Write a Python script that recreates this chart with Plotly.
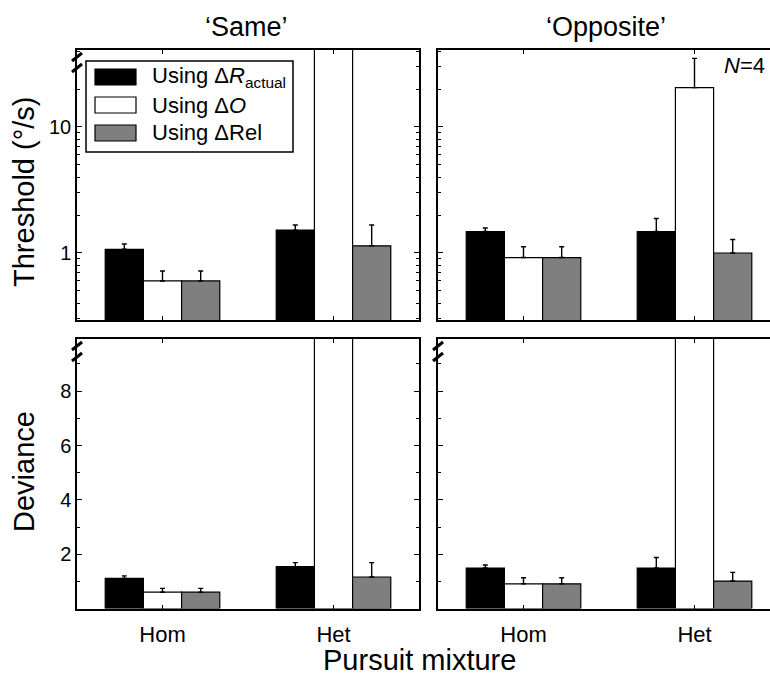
import plotly.graph_objects as go
import math

W, H = 770, 675

categories = ["Hom", "Het"]
series_names = ["Using Δ<i>R</i><sub>actual</sub>", "Using Δ<i>O</i>", "Using ΔRel"]
series_colors = ["#000000", "#ffffff", "#7f7f7f"]

# Threshold (deg/s), 'Same'
thr_same = [[1.07, 1.52], [0.60, 60.0], [0.60, 1.14]]
thr_same_err = [[0.11, 0.15], [0.12, 0.0], [0.12, 0.53]]
# Threshold, 'Opposite'
thr_opp = [[1.48, 1.48], [0.92, 20.5], [0.92, 1.00]]
thr_opp_err = [[0.10, 0.40], [0.20, 14.5], [0.20, 0.28]]
# Deviance, 'Same'
dev_same = [[1.11, 1.54], [0.60, 12.0], [0.60, 1.16]]
dev_same_err = [[0.09, 0.15], [0.14, 0.0], [0.14, 0.53]]
# Deviance, 'Opposite'
dev_opp = [[1.49, 1.49], [0.91, 12.0], [0.91, 1.01]]
dev_opp_err = [[0.11, 0.39], [0.22, 0.0], [0.22, 0.32]]

panel_titles = ["‘Same’", "‘Opposite’"]
thr_major = [1, 10]
thr_minor = [0.3, 0.4, 0.5, 0.6, 0.7, 0.8, 0.9, 2, 3, 4, 5, 6, 7, 8, 9, 20, 30, 40]
dev_major = [2, 4, 6, 8]
dev_minor = [1, 3, 5, 7, 9]

FONT = "Liberation Sans, Arial, Helvetica, sans-serif"

def px_x(p):
    return p / W

def px_y(p):
    return 1 - p / H

# panel geometry (pixels)
LX0, LX1 = 77, 419
RX0, RX1 = 438, 770
TY0, TY1 = 50, 320
BY0, BY1 = 339, 608.5

fig = go.Figure()

panels = [
    ("x", "y", thr_same, thr_same_err),
    ("x2", "y2", thr_opp, thr_opp_err),
    ("x3", "y3", dev_same, dev_same_err),
    ("x4", "y4", dev_opp, dev_opp_err),
]

for xa, ya, vals, errs in panels:
    for i in range(3):
        fig.add_trace(go.Bar(
            x=categories, y=vals[i], xaxis=xa, yaxis=ya,
            marker=dict(color=series_colors[i], line=dict(color="#000000", width=1.2)),
            error_y=dict(type="data", symmetric=False, array=errs[i],
                         arrayminus=[0, 0], color="#000000", thickness=1.4, width=2.5),
            showlegend=False, name=series_names[i], offsetgroup=str(i),
        ))

axis_common = dict(showline=True, linecolor="#000000", linewidth=1.5,
                   ticks="inside", tickcolor="#000000", showgrid=False, zeroline=False)

left_range = [-0.5, 1.5]
right_range = [-0.5, -0.5 + (RX1 - RX0) / ((LX1 - LX0) / 2.0)]

xdefs = {
    "xaxis": ([px_x(LX0), px_x(LX1)], left_range, False, "y"),
    "xaxis2": ([px_x(RX0), px_x(RX1)], right_range, False, "y2"),
    "xaxis3": ([px_x(LX0), px_x(LX1)], left_range, True, "y3"),
    "xaxis4": ([px_x(RX0), px_x(RX1)], right_range, True, "y4"),
}
for name, (dom, rng, labels, anchor) in xdefs.items():
    fig.layout[name] = dict(axis_common, domain=dom, range=rng, type="category",
                            mirror="ticks", ticklen=4, showticklabels=labels,
                            anchor=anchor, ticklabelstandoff=5,
                            tickfont=dict(family=FONT, size=22, color="#000000"))

thr_range = [math.log10(0.294), math.log10(40.8)]
ydefs = {
    "yaxis": ([px_y(TY1), px_y(TY0)], "log", thr_range, True, "x", thr_major, thr_minor, "ticks"),
    "yaxis2": ([px_y(TY1), px_y(TY0)], "log", thr_range, False, "x2", thr_major, thr_minor, False),
    "yaxis3": ([px_y(BY1), px_y(BY0)], "linear", [0, 9.92], True, "x3", dev_major, dev_minor, "ticks"),
    "yaxis4": ([px_y(BY1), px_y(BY0)], "linear", [0, 9.92], False, "x4", dev_major, dev_minor, False),
}
for name, (dom, typ, rng, labels, anchor, major, minor, mir) in ydefs.items():
    fig.layout[name] = dict(axis_common, domain=dom, type=typ, range=rng,
                            showticklabels=labels, anchor=anchor, mirror=mir,
                            tickmode="array", tickvals=major,
                            ticktext=[str(v) for v in major], ticklen=5,
                            tickfont=dict(family=FONT, size=20, color="#000000"),
                            minor=dict(tickmode="array", tickvals=minor, ticks="inside",
                                       ticklen=3, tickcolor="#000000", showgrid=False))

shapes = []
annotations = []

# axis-break marks
def brk(x, y):
    for dy in (0, 11):
        shapes.append(dict(type="line", xref="paper", yref="paper",
                           x0=px_x(x - 5), y0=px_y(y + dy + 4),
                           x1=px_x(x + 5), y1=px_y(y + dy - 4),
                           line=dict(color="#000000", width=3)))

brk(LX0, 57)
brk(LX0, 346)
brk(RX0, 346)

# legend (custom box)
shapes.append(dict(type="rect", xref="paper", yref="paper",
                   x0=px_x(86), x1=px_x(293), y0=px_y(152), y1=px_y(61),
                   line=dict(color="#000000", width=1.5), fillcolor="#ffffff", layer="above"))
rows = [77, 105, 133]
for i, ry in enumerate(rows):
    shapes.append(dict(type="rect", xref="paper", yref="paper",
                       x0=px_x(95), x1=px_x(136), y0=px_y(ry + 8), y1=px_y(ry - 8),
                       line=dict(color="#000000", width=1.2), fillcolor=series_colors[i],
                       layer="above"))
    annotations.append(dict(text=series_names[i], xref="paper", yref="paper",
                            x=px_x(150), y=px_y(ry), xanchor="left", yanchor="middle",
                            showarrow=False, font=dict(family=FONT, size=22, color="#000000")))

# panel titles
annotations.append(dict(text=panel_titles[0], xref="paper", yref="paper",
                        x=px_x(246), y=px_y(27), xanchor="center", yanchor="middle",
                        showarrow=False, font=dict(family=FONT, size=27, color="#000000")))
annotations.append(dict(text=panel_titles[1], xref="paper", yref="paper",
                        x=px_x(606), y=px_y(27), xanchor="center", yanchor="middle",
                        showarrow=False, font=dict(family=FONT, size=27, color="#000000")))
# N=4
annotations.append(dict(text="<i>N</i>=4", xref="paper", yref="paper",
                        x=px_x(722), y=px_y(66), xanchor="left", yanchor="middle",
                        showarrow=False, font=dict(family=FONT, size=22, color="#000000")))
# axis titles
annotations.append(dict(text="Threshold (°/s)", xref="paper", yref="paper",
                        x=px_x(24), y=px_y(192), xanchor="center", yanchor="middle", textangle=-90,
                        showarrow=False, font=dict(family=FONT, size=29, color="#000000")))
annotations.append(dict(text="Deviance", xref="paper", yref="paper",
                        x=px_x(24), y=px_y(472), xanchor="center", yanchor="middle", textangle=-90,
                        showarrow=False, font=dict(family=FONT, size=29, color="#000000")))
annotations.append(dict(text="Pursuit mixture", xref="paper", yref="paper",
                        x=px_x(419), y=px_y(660), xanchor="center", yanchor="middle",
                        showarrow=False, font=dict(family=FONT, size=29, color="#000000")))

fig.update_layout(
    width=W, height=H, margin=dict(l=0, r=0, t=0, b=0),
    paper_bgcolor="#ffffff", plot_bgcolor="#ffffff",
    barmode="group", bargap=0.33, bargroupgap=0,
    shapes=shapes, annotations=annotations, showlegend=False,
    font=dict(family=FONT, color="#000000"),
)

fig.write_html("out.html")
